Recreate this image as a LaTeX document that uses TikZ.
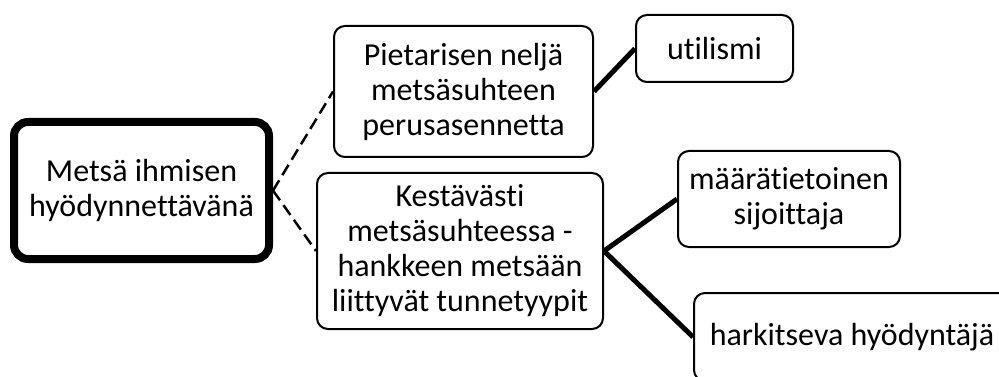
\documentclass[tikz,border=0pt]{standalone}
\usepackage{fontspec}
\setmainfont{Carlito}[Ligatures={NoCommon}]
\begin{document}
\begin{tikzpicture}[x=1pt,y=-1pt,
  box/.style={draw=black, line width=2pt, rounded corners=11pt, fill=white,
    align=center, inner sep=0pt, font=\fontsize{32}{35}\selectfont},
  mainbox/.style={box, line width=8pt, rounded corners=14pt},
  dashlink/.style={line width=2.5pt, dash pattern=on 12pt off 6pt},
  thicklink/.style={line width=5pt}]
\useasboundingbox (0,0) rectangle (999,377);
\clip (0,0) rectangle (999,377);
\node[mainbox, minimum width=255pt, minimum height=137pt] (main) at (141.5,190.5)
  {Metsä ihmisen\\hyödynnettävänä};
\node[box, minimum width=259pt, minimum height=131pt] (piet) at (463.5,91.5)
  {Pietarisen neljä\\metsäsuhteen\\perusasennetta};
\node[box, minimum width=286pt, minimum height=156pt] (kest) at (460,251)
  {Kestävästi\\metsäsuhteessa -\\hankkeen metsään\\liittyvät tunnetyypit};
\node[box, minimum width=157pt, minimum height=67pt] (util) at (714.5,48.5)
  {utilismi};
\node[box, minimum width=222pt, minimum height=96pt] (maar) at (789,199)
  {määrätietoinen\\sijoittaja};
\node[box, minimum width=316pt, minimum height=88pt] (hark) at (852,337)
  {harkitseva hyödyntäjä};
\draw[dashlink] (main.east) -- (piet.west);
\draw[dashlink] (main.east) -- (kest.west);
\draw[thicklink] (piet.east) -- (util.west);
\draw[thicklink] (kest.east) -- (maar.west);
\draw[thicklink] (kest.east) -- (hark.west);
\end{tikzpicture}
\end{document}
